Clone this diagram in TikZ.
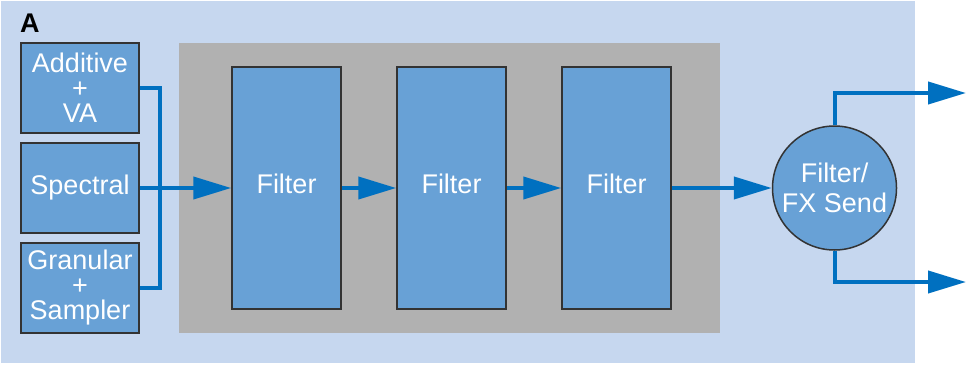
\documentclass[tikz,border=0pt]{standalone}
\usepackage{fontspec}
\setmainfont{Liberation Sans}
\usetikzlibrary{arrows.meta}
\definecolor{bgblue}{HTML}{C6D7EF}
\definecolor{panelgray}{HTML}{B1B1B1}
\definecolor{boxblue}{HTML}{68A1D6}
\definecolor{linkblue}{HTML}{0070C0}
\definecolor{edge}{HTML}{333333}
\tikzset{
  txt/.style={font=\fontsize{27}{25}\selectfont},
  srcbox/.style={draw=edge, line width=1.5pt, fill=boxblue, text=white, minimum width=118pt, minimum height=90pt, inner sep=0pt, align=center, txt},
  filterbox/.style={draw=edge, line width=1.5pt, fill=boxblue, text=white, minimum width=109pt, minimum height=242pt, inner sep=0pt, text depth=8pt, txt},
  sendnode/.style={circle, draw=edge, line width=1.5pt, fill=boxblue, text=white, minimum size=124pt, inner sep=0pt, align=center, font=\fontsize{27}{30}\selectfont},
  conn/.style={draw=linkblue, line width=4pt},
  arr/.style={conn, -{Triangle[length=38pt, width=22pt]}},
}
\begin{document}
\begin{tikzpicture}[x=1pt, y=-1pt]
\useasboundingbox (0,0) rectangle (968,364);
\fill[bgblue] (1,1) rectangle (915,363);
\fill[panelgray] (179,43) rectangle (720,333);
\node[font=\bfseries\fontsize{27}{25}\selectfont, anchor=base west, inner sep=0pt] (lbl) at (20,32) {A};
\node[srcbox] (add) at (80,88) {Additive\\+\\VA};
\node[srcbox] (spec) at (80,188) {Spectral};
\node[srcbox] (gran) at (80,288) {Granular\\+\\Sampler};
\node[filterbox] (f1) at (286.5,188) {Filter};
\node[filterbox] (f2) at (451.5,188) {Filter};
\node[filterbox] (f3) at (616.5,188) {Filter};
\node[sendnode] (fx) at (834.5,188) {Filter/\\FX Send};
\coordinate (j) at (160,188);
\coordinate (o1) at (966,93);
\coordinate (o2) at (966,282);
\draw[conn] (add.east) -| (j) |- (gran.east);
\draw[arr] (spec.east) -- (f1.west);
\draw[arr] (f1.east) -- (f2.west);
\draw[arr] (f2.east) -- (f3.west);
\draw[arr] (f3.east) -- (fx.west);
\draw[arr] (fx.north) |- (o1);
\draw[arr] (fx.south) |- (o2);
\end{tikzpicture}
\end{document}
